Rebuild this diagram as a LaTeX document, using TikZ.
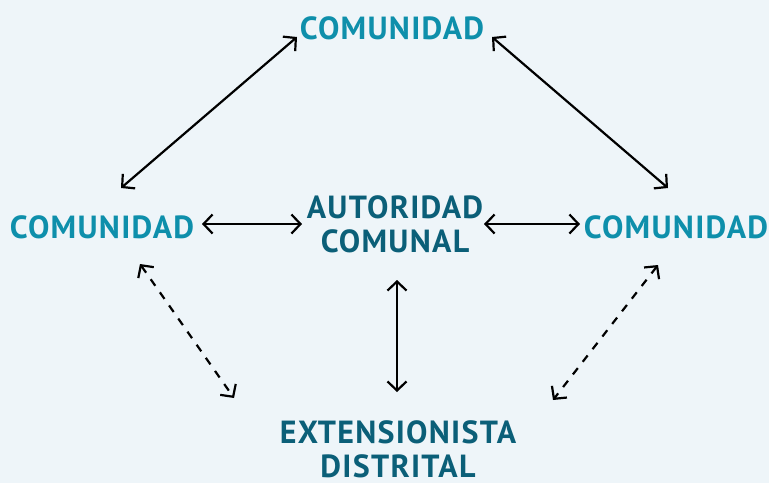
\documentclass[tikz,border=0pt]{standalone}
\usepackage{fontspec}
\setmainfont[LetterSpace=4]{PT Sans}
\usetikzlibrary{arrows.meta,calc}
\definecolor{bgc}{HTML}{EEF5F9}
\definecolor{light}{HTML}{0E8FAB}
\definecolor{dark}{HTML}{0B5F78}
\tikzset{
  lbl/.style={inner sep=0pt, align=center, font=\fontsize{32}{34}\selectfont\bfseries},
  com/.style={lbl, text=light},
  org/.style={lbl, text=dark},
  link/.style={line width=2.2pt, black, {Straight Barb[length=9pt,width=19pt]}-{Straight Barb[length=9pt,width=19pt]}},
  dlink/.style={link, dash pattern=on 8pt off 8pt}
}
\begin{document}
\begin{tikzpicture}[x=1pt,y=-1pt]
\fill[bgc] (0,0) rectangle (769,483);
\useasboundingbox (0,0) rectangle (769,483);
\node[com] (top) at (392,28) {COMUNIDAD};
\node[com] (left) at (102,227) {COMUNIDAD};
\node[com] (right) at (676,227) {COMUNIDAD};
\node[org] (auto) at (395,224) {AUTORIDAD\\COMUNAL};
\node[org] (ext) at (398,449) {EXTENSIONISTA\\DISTRITAL};
\draw[link] ($(top)+(-95,9)$) -- ($(left)+(19,-39)$);
\draw[link] ($(top)+(100,9)$) -- ($(right)+(-8,-39)$);
\draw[link] ($(left)+(100,-3)$) -- ($(auto)+(-93,0)$);
\draw[link] ($(auto)+(89,0)$) -- ($(right)+(-96,-3)$);
\draw[link] ($(auto)+(2,56)$) -- ($(ext)+(-1,-57)$);
\draw[dlink] ($(left)+(38,37)$) -- ($(ext)+(-164,-51)$);
\draw[dlink] ($(right)+(-18,38)$) -- ($(ext)+(155,-49)$);
\end{tikzpicture}
\end{document}
